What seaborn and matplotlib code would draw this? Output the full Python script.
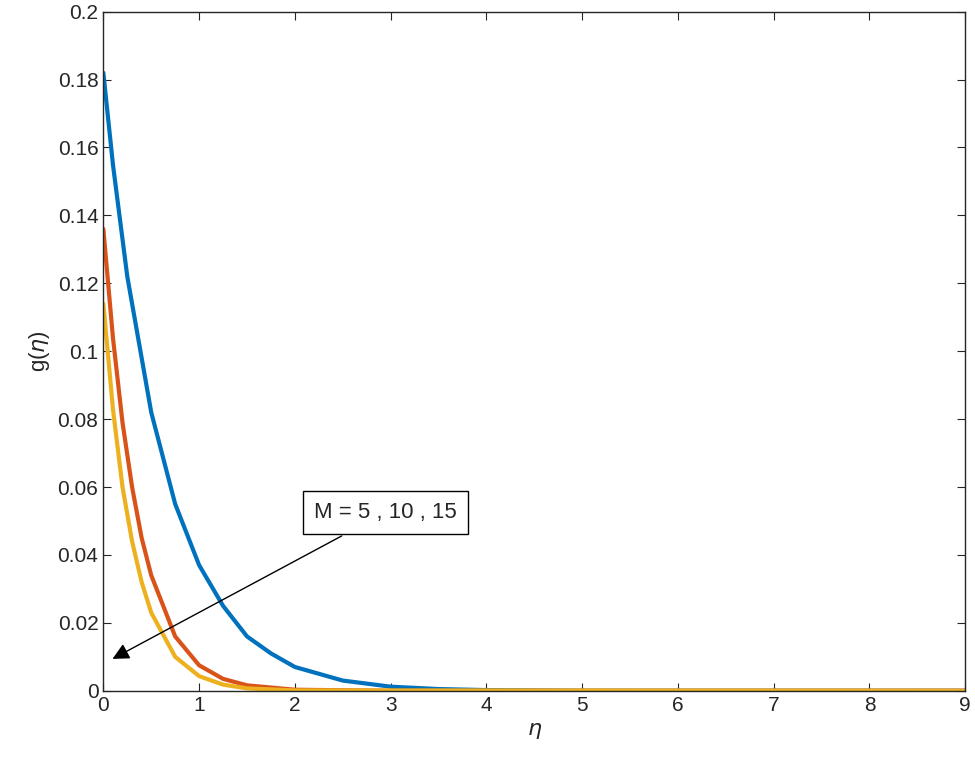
import matplotlib
matplotlib.use("Agg")
import matplotlib.pyplot as plt
import seaborn as sns
import pandas as pd

# values
eta_blue = [0, 0.1, 0.25, 0.5, 0.75, 1, 1.25, 1.5, 1.75, 2, 2.5, 3, 3.5, 4, 5, 9]
g_blue = [0.182, 0.155, 0.122, 0.082, 0.055, 0.037, 0.025, 0.016, 0.011, 0.007, 0.003, 0.0012, 0.0005, 0.0002, 0.0, 0.0]
eta_red = [0, 0.1, 0.2, 0.3, 0.4, 0.5, 0.75, 1, 1.25, 1.5, 2, 3, 9]
g_red = [0.136, 0.104, 0.079, 0.060, 0.045, 0.034, 0.016, 0.0075, 0.0035, 0.0016, 0.0003, 0.0, 0.0]
eta_yel = [0, 0.1, 0.2, 0.3, 0.4, 0.5, 0.75, 1, 1.25, 1.5, 2, 9]
g_yel = [0.114, 0.083, 0.060, 0.044, 0.032, 0.023, 0.010, 0.0043, 0.0018, 0.0007, 0.0001, 0.0]
colors = ["#0072BD", "#D95319", "#EDB120"]

df = pd.concat([
    pd.DataFrame({"eta": eta_blue, "g": g_blue, "M": "5"}),
    pd.DataFrame({"eta": eta_red, "g": g_red, "M": "10"}),
    pd.DataFrame({"eta": eta_yel, "g": g_yel, "M": "15"}),
])

sns.set_style("ticks")
plt.rcParams["font.family"] = ["Liberation Sans", "DejaVu Sans"]
fig = plt.figure(figsize=(9.75, 7.77), dpi=100)
ax = fig.add_axes([0.106, 0.111, 0.884, 0.874])
sns.lineplot(data=df, x="eta", y="g", hue="M", palette=colors, linewidth=3, legend=False, ax=ax)

ax.set_xlim(0, 9)
ax.set_ylim(0, 0.2)
ax.set_xticks(range(10))
ax.set_yticks([i * 0.02 for i in range(11)])
ax.set_yticklabels(["0"] + ["%g" % round(i * 0.02, 2) for i in range(1, 11)])
ax.tick_params(direction="in", labelsize=15, top=True, right=True, length=6)
for s in ax.spines.values():
    s.set_linewidth(1)
ax.set_xlabel(r"$\eta$", fontsize=16)
ax.set_ylabel(r"g($\eta$)", fontsize=16)

ax.annotate("M = 5 , 10 , 15", xy=(0.07, 0.009), xytext=(0.215, 0.053),
            textcoords="data", fontsize=16, ha="left", va="center",
            bbox=dict(boxstyle="square,pad=0.5", fc="white", ec="black"),
            arrowprops=dict(arrowstyle="-|>", color="black", lw=1, mutation_scale=25))
ax.texts[-1].set_position((2.2, 0.0525))

fig.savefig("out.png")
